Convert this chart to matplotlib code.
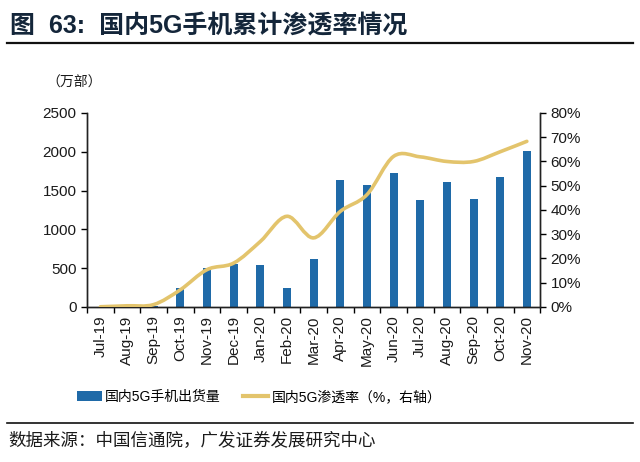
import numpy as np
import matplotlib
matplotlib.use('Agg')
import matplotlib.pyplot as plt
from matplotlib.path import Path
from matplotlib.patches import PathPatch
from matplotlib.lines import Line2D
from matplotlib.patches import Patch

plt.rcParams['font.family'] = ['Liberation Sans', 'Noto Sans CJK SC', 'DejaVu Sans']

# ---------------- data ----------------
months = ['Jul-19', 'Aug-19', 'Sep-19', 'Oct-19', 'Nov-19', 'Dec-19', 'Jan-20',
          'Feb-20', 'Mar-20', 'Apr-20', 'May-20', 'Jun-20', 'Jul-20', 'Aug-20',
          'Sep-20', 'Oct-20', 'Nov-20']
shipments = [0, 2, 15, 249, 507, 557, 546, 239, 622, 1632, 1568, 1727,
             1379, 1615, 1396, 1680, 2010]
penetration = [0.1, 0.5, 1.0, 7.1, 15.4, 18.1, 27.0, 37.4, 28.5, 39.4, 46.3,
               62.1, 61.9, 60.0, 60.0, 64.0, 68.3]

BAR_C = '#1f6aa8'
LINE_C = '#e3c46c'
TXT_C = '#1a1a1a'

fig = plt.figure(figsize=(6.4, 4.62), dpi=100, facecolor='white')
ax = fig.add_axes([0.136, 0.3355, 0.708, 0.42])
ax2 = ax.twinx()

x = np.arange(len(months))
ax.bar(x, shipments, width=0.3, color=BAR_C, zorder=2)

ax.set_xlim(-0.5, len(months) - 0.5)
ax.set_ylim(0, 2500)
ax.set_yticks(range(0, 2501, 500))
ax2.set_ylim(0, 80)
ax2.set_yticks(range(0, 81, 10))
ax2.set_yticklabels([f'{v}%' for v in range(0, 81, 10)])

ax.set_xticks(x)
ax.set_xticklabels(months, rotation=90, fontsize=11, color=TXT_C)
ax.set_xticks(np.arange(-0.5, len(months)), minor=True)
ax.tick_params(axis='x', which='major', length=0, pad=6)
ax.tick_params(axis='x', which='minor', length=4, direction='out', width=1)
ax.tick_params(axis='y', length=4, width=1, labelsize=11, labelcolor=TXT_C)
ax2.tick_params(axis='y', length=4, width=1, labelsize=11, labelcolor=TXT_C)

for a in (ax, ax2):
    a.spines['top'].set_visible(False)
    for s in ('left', 'right', 'bottom'):
        a.spines[s].set_color('#222222')
        a.spines[s].set_linewidth(1.0)

# smoothed line (Excel-style cubic Bezier through the points)
sx = 26.6            # px per category
sy = 194 / 80.0      # px per percent
px = x * sx
py = np.array(penetration) * sy
verts = [(px[0], py[0])]
codes = [Path.MOVETO]
n = len(px)
for i in range(n - 1):
    p0 = np.array([px[max(i - 1, 0)], py[max(i - 1, 0)]])
    p1 = np.array([px[i], py[i]])
    p2 = np.array([px[i + 1], py[i + 1]])
    p3 = np.array([px[min(i + 2, n - 1)], py[min(i + 2, n - 1)]])
    c1 = p1 + (p2 - p0) / 6.0
    c2 = p2 - (p3 - p1) / 6.0
    verts += [tuple(c1), tuple(c2), tuple(p2)]
    codes += [Path.CURVE4] * 3
verts = [(vx / sx, vy / sy) for vx, vy in verts]
ax2.add_patch(PathPatch(Path(verts, codes), facecolor='none', edgecolor=LINE_C,
                        lw=2.6, capstyle='round', zorder=3))

# unit label
fig.text(0.073, 0.820, '（万部）', fontsize=10, color=TXT_C, va='center',
         family=['Noto Sans CJK SC', 'DejaVu Sans'])

# legend
handles = [Patch(facecolor=BAR_C, edgecolor='none'),
           Line2D([0], [0], color=LINE_C, lw=3)]
labels = ['国内5G手机出货量', '国内5G渗透率（%，右轴）']
fig.legend(handles, labels, loc='center left', bbox_to_anchor=(0.12, 0.141), ncol=2,
           frameon=False, handlelength=1.8, handletextpad=0.25,
           columnspacing=1.6, borderpad=0, borderaxespad=0,
           prop={'family': ['Liberation Sans', 'Noto Sans CJK SC'], 'size': 10})

# title
fig.text(0.016, 0.942, '图  63:  国内5G手机累计渗透率情况', fontsize=18, fontweight='bold',
         color='#14263a', va='center', family=['Liberation Sans', 'Noto Sans CJK SC'])
fig.add_artist(Line2D([0.011, 0.989], [0.907, 0.907], color='#111111', lw=1.6))

# source
fig.add_artist(Line2D([0.011, 0.989], [0.085, 0.085], color='#111111', lw=1.2))
fig.text(0.013, 0.045, '数据来源：中国信通院，广发证券发展研究中心', fontsize=12.6,
         color=TXT_C, va='center', family=['Noto Sans CJK SC', 'DejaVu Sans'])

fig.savefig('out.png', dpi=100, facecolor='white')
